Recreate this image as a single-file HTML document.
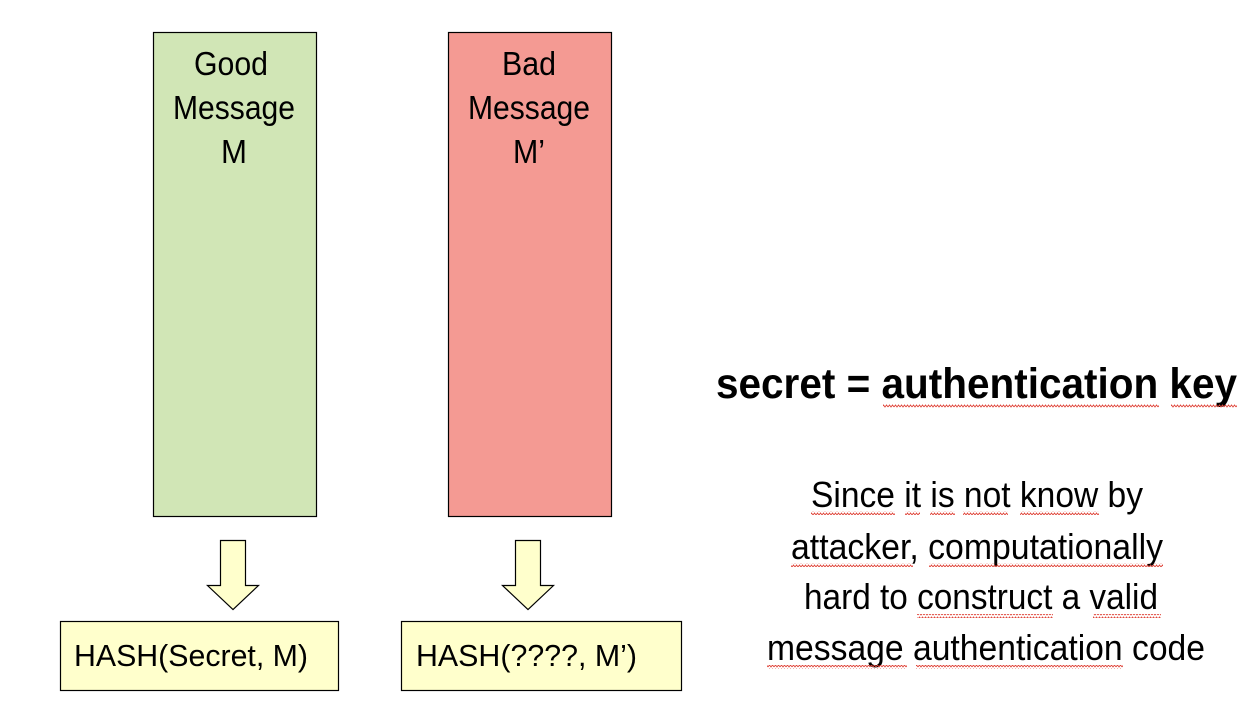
<!DOCTYPE html>
<html><head><meta charset="utf-8"><style>html,body{margin:0;padding:0;background:#fff}svg{display:block}</style></head>
<body>
<svg width="1254" height="720" viewBox="0 0 1254 720" xmlns="http://www.w3.org/2000/svg" font-family="Liberation Sans, Arial, sans-serif">
<defs>
<pattern id="w" width="6" height="4" patternUnits="userSpaceOnUse">
<polyline points="0,3 1.5,1 3,3 4.5,1 6,3" fill="none" stroke="#e0453a" stroke-width="0.9"/>
</pattern>
</defs>
<rect x="153.5" y="32.5" width="163" height="484" fill="#d1e6b6" stroke="#000" stroke-width="1.2"/>
<rect x="448.5" y="32.5" width="163" height="484" fill="#f49a93" stroke="#000" stroke-width="1.2"/>
<g font-size="33" text-anchor="middle" fill="#000">
<text x="231" y="75" textLength="74" lengthAdjust="spacingAndGlyphs">Good</text>
<text x="234" y="119" textLength="122" lengthAdjust="spacingAndGlyphs">Message</text>
<text x="234" y="163" textLength="26" lengthAdjust="spacingAndGlyphs">M</text>
<text x="529" y="75" textLength="54" lengthAdjust="spacingAndGlyphs">Bad</text>
<text x="529" y="119" textLength="122" lengthAdjust="spacingAndGlyphs">Message</text>
<text x="529" y="163" textLength="32" lengthAdjust="spacingAndGlyphs">M’</text>
</g>
<polygon points="220.5,540.5 245.5,540.5 245.5,585.5 258.5,585.5 233,609.5 207.5,585.5 220.5,585.5" fill="#ffffcc" stroke="#000" stroke-width="1.2"/>
<polygon points="515.5,540.5 540.5,540.5 540.5,585.5 553.5,585.5 528,609.5 502.5,585.5 515.5,585.5" fill="#ffffcc" stroke="#000" stroke-width="1.2"/>
<rect x="60.5" y="621.5" width="278" height="69" fill="#ffffcc" stroke="#000" stroke-width="1.2"/>
<rect x="401.5" y="621.5" width="280" height="69" fill="#ffffcc" stroke="#000" stroke-width="1.2"/>
<g font-size="31" fill="#000">
<text x="74" y="666" textLength="234" lengthAdjust="spacingAndGlyphs">HASH(Secret, M)</text>
<text x="416" y="666" textLength="221" lengthAdjust="spacingAndGlyphs">HASH(????, M’)</text>
</g>
<text x="716" y="398" font-size="43" font-weight="bold" textLength="521" lengthAdjust="spacingAndGlyphs">secret = authentication key</text>
<g font-size="36" fill="#000">
<text x="811" y="507" textLength="332" lengthAdjust="spacingAndGlyphs">Since it is not know by</text>
<text x="791" y="559" textLength="372" lengthAdjust="spacingAndGlyphs">attacker, computationally</text>
<text x="804" y="609" textLength="354" lengthAdjust="spacingAndGlyphs">hard to construct a valid</text>
<text x="767" y="660" textLength="438" lengthAdjust="spacingAndGlyphs">message authentication code</text>
</g>
<g fill="url(#w)">
<rect x="883" y="404" width="276" height="4"/>
<rect x="1171" y="404" width="66" height="4"/>
<rect x="811" y="511" width="84" height="4"/>
<rect x="905" y="511" width="15" height="4"/>
<rect x="930" y="511" width="25" height="4"/>
<rect x="963" y="511" width="45" height="4"/>
<rect x="1020" y="511" width="79" height="4"/>
<rect x="791" y="563" width="122" height="4"/>
<rect x="929" y="563" width="234" height="4"/>
<rect x="917" y="614" width="136" height="4"/>
<rect x="1093" y="614" width="68" height="4"/>
<rect x="767" y="665" width="140" height="4"/>
<rect x="916" y="665" width="207" height="4"/>
</g>
</svg>
</body></html>
